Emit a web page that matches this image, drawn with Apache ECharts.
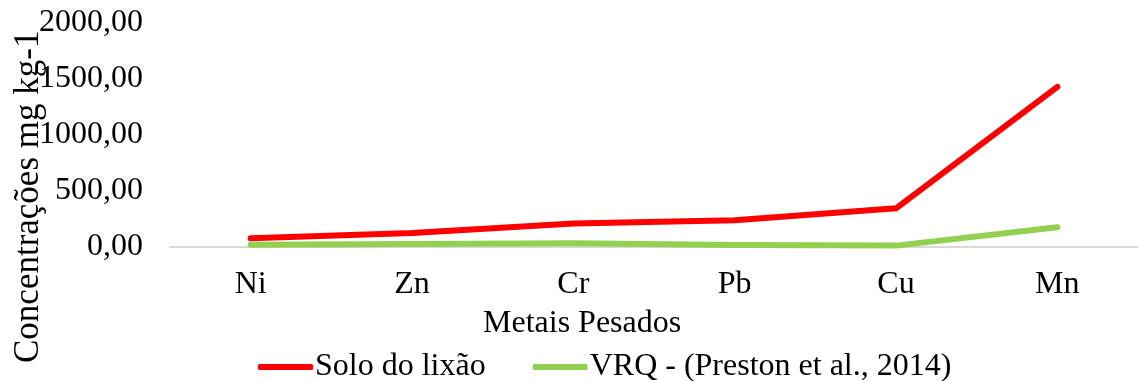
<!DOCTYPE html>
<html>
<head>
<meta charset="utf-8">
<script src="https://cdn.jsdelivr.net/npm/echarts@6/dist/echarts.min.js"></script>
<style>
html,body{margin:0;padding:0;background:#fff;}
#c{width:1138px;height:381px;}
</style>
</head>
<body>
<div id="c"></div>
<script>
const categories = ['Ni', 'Zn', 'Cr', 'Pb', 'Cu', 'Mn'];
const soloLixao = [73, 120, 205, 235, 342, 1428];
const vrq = [16, 22, 30, 14, 8, 172];
const seriesNames = ['Solo do lixão', 'VRQ - (Preston et al., 2014)'];
const yTicks = [0, 500, 1000, 1500, 2000];
const xTitle = 'Metais Pesados';
const yTitle = 'Concentrações mg kg-1';

const FONT = '"Liberation Serif", "Times New Roman", serif';
const chart = echarts.init(document.getElementById('c'), null, {renderer: 'canvas'});
chart.setOption({
  animation: false,
  backgroundColor: '#fff',
  grid: {left: 170, right: 0, top: 23, bottom: 134.5, containLabel: false},
  legend: {
    left: 253, top: 346,
    itemWidth: 55, itemHeight: 6, itemGap: 47,
    icon: 'roundRect',
    textStyle: {fontFamily: FONT, fontSize: 32, color: '#000', padding: [0,0,0,-3]},
    data: seriesNames
  },
  xAxis: {
    type: 'category',
    data: categories,
    boundaryGap: true,
    axisLine: {lineStyle: {color: '#D9D9D9', width: 2}},
    axisTick: {show: false},
    axisLabel: {fontFamily: FONT, fontSize: 32, color: '#000', margin: 22}
  },
  yAxis: {
    type: 'value',
    min: yTicks[0], max: yTicks[yTicks.length-1], interval: 500,
    axisLine: {show: false},
    axisTick: {show: false},
    splitLine: {show: false},
    axisLabel: {
      fontFamily: FONT, fontSize: 32, color: '#000', margin: 27,
      formatter: v => v.toFixed(2).replace('.', ',')
    }
  },
  graphic: [
    {type: 'text', left: 483, top: 308, style: {text: xTitle, font: '32px ' + FONT, fill: '#000'}},
    {type: 'text', x: 11, y: 363, rotation: Math.PI/2,
     style: {text: yTitle, font: '35px ' + FONT, fill: '#000', textAlign: 'left', textVerticalAlign: 'top'}}
  ],
  series: [
    {name: seriesNames[0], type: 'line', data: soloLixao, symbol: 'none', color: '#FF0000',
     lineStyle: {width: 6, color: '#FF0000', cap: 'round', join: 'round'}},
    {name: seriesNames[1], type: 'line', data: vrq, symbol: 'none', color: '#92D050',
     lineStyle: {width: 6, color: '#92D050', cap: 'round', join: 'round'}}
  ]
});
</script>
</body>
</html>
